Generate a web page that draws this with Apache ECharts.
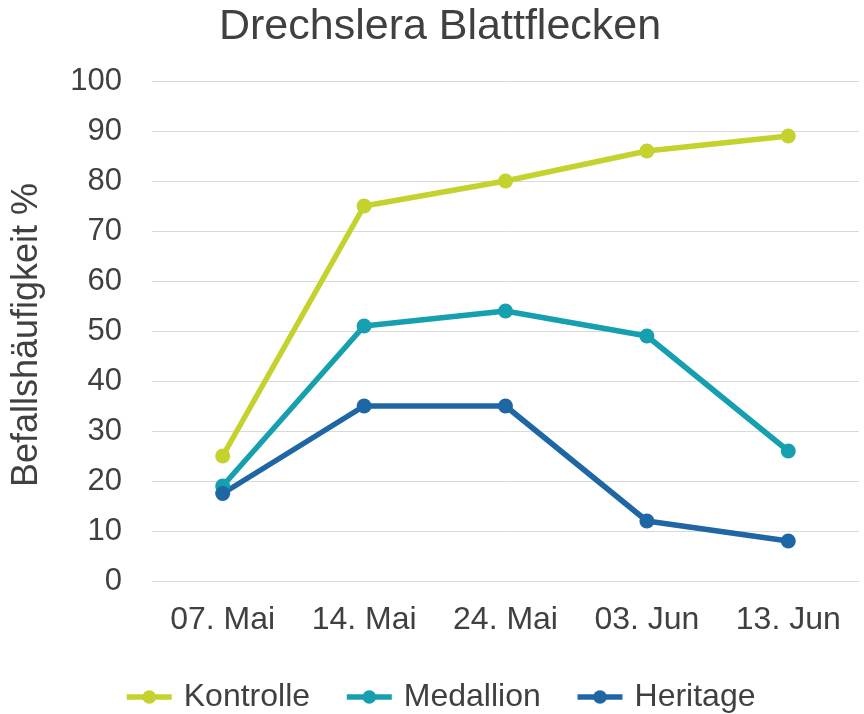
<!DOCTYPE html>
<html><head><meta charset="utf-8">
<script src="https://cdn.jsdelivr.net/npm/echarts@6/dist/echarts.min.js"></script>
<style>html,body{margin:0;padding:0;background:#fff}#c{width:864px;height:714px}</style>
</head><body><div id="c"></div>
<script>
const categories = ['07. Mai', '14. Mai', '24. Mai', '03. Jun', '13. Jun'];
const kontrolle = [25, 75, 80, 86, 89];
const medallion = [19, 51, 54, 49, 26];
const heritage = [17.5, 35, 35, 12, 8];
const seriesNames = ['Kontrolle', 'Medallion', 'Heritage'];
const colors = ['#C4D22E', '#16A0AF', '#1E67A4'];
const font = 'Liberation Sans, Arial, sans-serif';
const txt = '#404040';
const chart = echarts.init(document.getElementById('c'));
const mk = (name, data, color) => ({
  name, type: 'line', data, color,
  symbol: 'circle', symbolSize: 15,
  lineStyle: { width: 5.5, color },
  itemStyle: { color },
  emphasis: { disabled: true }
});
chart.setOption({
  animation: false,
  title: { text: 'Drechslera Blattflecken', left: 217, top: 4, padding: [2, 2, 2, 2],
    textStyle: { fontFamily: font, fontSize: 43, fontWeight: 'normal', color: txt } },
  grid: { left: 152, right: 5, top: 81, bottom: 133 },
  legend: { top: 676, left: 119, itemWidth: 45, itemHeight: 17, itemGap: 34,
    lineStyle: { width: 5.5 },
    textStyle: { fontFamily: font, fontSize: 32, color: txt, padding: [0, 0, 0, 7] },
    data: seriesNames },
  xAxis: { type: 'category', data: categories,
    axisLine: { lineStyle: { color: '#D9D9D9', width: 1 } },
    axisTick: { show: false },
    axisLabel: { fontFamily: font, fontSize: 32, color: txt, margin: 23 } },
  yAxis: { type: 'value', min: 0, max: 100, interval: 10,
    name: 'Befallshäufigkeit %', nameLocation: 'middle', nameGap: 107, nameRotate: 90,
    nameTextStyle: { fontFamily: font, fontSize: 36, color: txt, padding: [0, 8, 0, 0] },
    axisLine: { show: false }, axisTick: { show: false },
    splitLine: { lineStyle: { color: '#D9D9D9', width: 1 } },
    axisLabel: { fontFamily: font, fontSize: 31, color: txt, margin: 30 } },
  series: [
    mk(seriesNames[0], kontrolle, colors[0]),
    mk(seriesNames[1], medallion, colors[1]),
    mk(seriesNames[2], heritage, colors[2])
  ]
});
</script></body></html>
